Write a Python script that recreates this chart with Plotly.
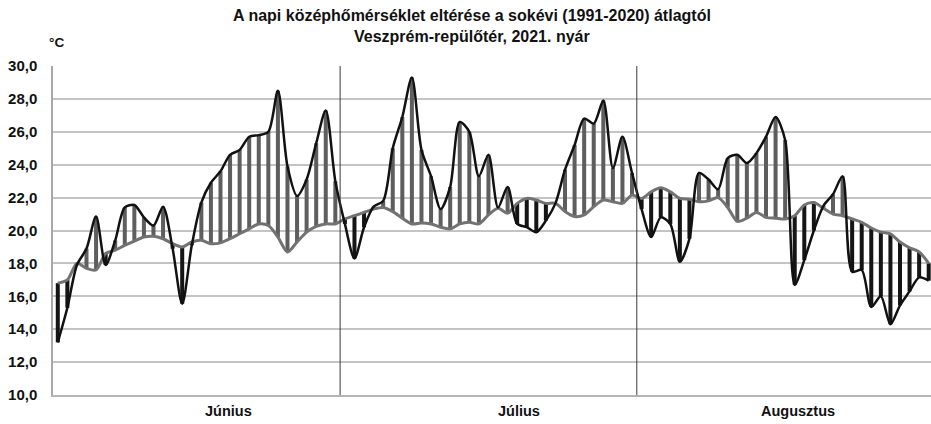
import plotly.graph_objects as go

# ---- data ----
days = list(range(92))  # 1 June .. 31 August 2021

actual_temp = [
    # June
    13.2, 15.3, 17.9, 18.9, 20.85, 17.9, 19.4, 21.4, 21.55, 20.8,
    20.3, 21.45, 18.9, 15.55, 19.1, 21.7, 22.9, 23.6, 24.6, 24.9,
    25.7, 25.8, 26.0, 28.5, 23.9, 22.1, 23.1, 25.3, 27.3, 23.0,
    # July
    20.4, 18.3, 20.2, 21.45, 21.8, 25.0, 26.9, 29.3, 24.9, 23.3,
    21.3, 22.65, 26.6, 26.0, 23.3, 24.6, 21.4, 22.65, 20.4, 20.2,
    19.9, 20.6, 21.65, 23.7, 25.2, 26.8, 26.5, 27.9, 23.8, 25.7,
    23.5,
    # August
    21.3, 19.6, 20.8, 20.4, 18.1, 19.5, 23.5, 23.1, 22.5, 24.4,
    24.6, 24.1, 24.7, 25.7, 26.9, 25.5, 16.7, 18.2, 20.0, 21.5,
    22.2, 23.3, 17.5, 17.6, 15.35, 16.0, 14.3, 15.45, 16.3, 17.15,
    16.95,
]

normal_temp = [
    # June
    16.8, 17.0, 18.0, 17.7, 17.6, 18.6, 18.8, 19.1, 19.35, 19.6,
    19.65, 19.5, 19.2, 19.0, 19.3, 19.4, 19.2, 19.25, 19.5, 19.8,
    20.1, 20.4, 20.3, 19.6, 18.7, 19.3, 19.9, 20.25, 20.4, 20.4,
    # July
    20.7, 20.9, 21.1, 21.3, 21.4, 21.15, 20.75, 20.4, 20.45, 20.4,
    20.2, 20.1, 20.4, 20.5, 20.4, 20.95, 21.35, 21.05, 21.65, 21.95,
    21.85, 21.65, 21.65, 21.15, 20.85, 20.95, 21.45, 21.85, 21.75, 21.65,
    22.15,
    # August
    21.95, 22.35, 22.6, 22.35, 21.95, 21.9, 21.75, 21.8, 22.0, 21.4,
    20.55, 20.75, 21.1, 20.8, 20.75, 20.7, 20.9, 21.55, 21.7, 21.35,
    21.0, 20.9, 20.7, 20.5, 20.15, 19.9, 19.8, 19.3, 18.95, 18.7,
    18.0,
]

y_tick_values = [10, 12, 14, 16, 18, 20, 22, 24, 26, 28, 30]
y_tick_labels = ["10,0", "12,0", "14,0", "16,0", "18,0", "20,0",
                 "22,0", "24,0", "26,0", "28,0", "30,0"]

month_names = ["Június", "Július", "Augusztus"]
month_label_days = [17.8, 48.2, 77.3]
month_boundaries = [29.5, 60.5]

title_line1 = "A napi középhőmérséklet eltérése a sokévi (1991-2020) átlagtól"
title_line2 = "Veszprém-repülőtér, 2021. nyár"
unit_label = "°C"

# ---- figure ----
FONT = "Arial, 'Liberation Sans', sans-serif"
PLOT_L, PLOT_T, PLOT_W, PLOT_H = 53, 66, 878, 328.6

deviation = [a - n for a, n in zip(actual_temp, normal_temp)]
bar_colors = ["#5e5e5e" if d >= 0 else "#151515" for d in deviation]

fig = go.Figure()
fig.add_trace(go.Bar(
    x=days, y=deviation, base=normal_temp, width=0.42,
    marker=dict(color=bar_colors, line=dict(width=0)),
    hoverinfo="skip", showlegend=False,
))
fig.add_trace(go.Scatter(
    x=days, y=normal_temp, mode="lines",
    line=dict(color="#727272", width=3, shape="spline", smoothing=0.8),
    showlegend=False,
))
fig.add_trace(go.Scatter(
    x=days, y=actual_temp, mode="lines",
    line=dict(color="#111111", width=2.5, shape="spline", smoothing=0.8),
    showlegend=False,
))

for b in month_boundaries:
    fig.add_shape(type="line", xref="x", yref="paper", x0=b, x1=b, y0=0, y1=1,
                  line=dict(color="#3a3a3a", width=1))


def py(px):
    return (PLOT_T + PLOT_H - px) / PLOT_H


def px_x(px):
    return (px - PLOT_L) / PLOT_W


ann = []
ann.append(dict(text=title_line1, xref="paper", yref="paper",
                x=px_x(472), y=py(16),
                showarrow=False, xanchor="center", yanchor="middle",
                font=dict(family=FONT, size=16, color="#111", weight=700)))
ann.append(dict(text=title_line2, xref="paper", yref="paper",
                x=px_x(472), y=py(37),
                showarrow=False, xanchor="center", yanchor="middle",
                font=dict(family=FONT, size=16, color="#111", weight=700)))
ann.append(dict(text=unit_label, xref="paper", yref="paper",
                x=px_x(56), y=py(42.5),
                showarrow=False, xanchor="center", yanchor="middle",
                font=dict(family=FONT, size=13.5, color="#111", weight=700)))
for name, d in zip(month_names, month_label_days):
    ann.append(dict(text=name, xref="x", yref="paper", x=d,
                    y=py(411),
                    showarrow=False, xanchor="center", yanchor="middle",
                    font=dict(family=FONT, size=14.5, color="#111", weight=700)))

fig.update_layout(
    width=931, height=424,
    margin=dict(l=PLOT_L, r=0, t=PLOT_T, b=424 - PLOT_T - PLOT_H, pad=0),
    paper_bgcolor="white", plot_bgcolor="white",
    showlegend=False,
    annotations=ann,
    xaxis=dict(range=[-0.5, 91.24], showgrid=False, zeroline=False,
               showticklabels=False, ticks="",
               showline=True, linecolor="#b5b5b5", linewidth=1.5),
    yaxis=dict(range=[10, 30], tickvals=y_tick_values, ticktext=y_tick_labels,
               showgrid=True, gridcolor="#c4c4c4", gridwidth=1.5,
               zeroline=False, showline=True, linecolor="#a8a8a8", linewidth=1.5,
               ticks="", ticklabelstandoff=11,
               tickfont=dict(family=FONT, size=15, color="#111", weight=700)),
)

fig.write_html("out.html",
               config={"displayModeBar": False},
               post_script="document.body.style.margin='0';"
                           "document.body.style.padding='0';")
